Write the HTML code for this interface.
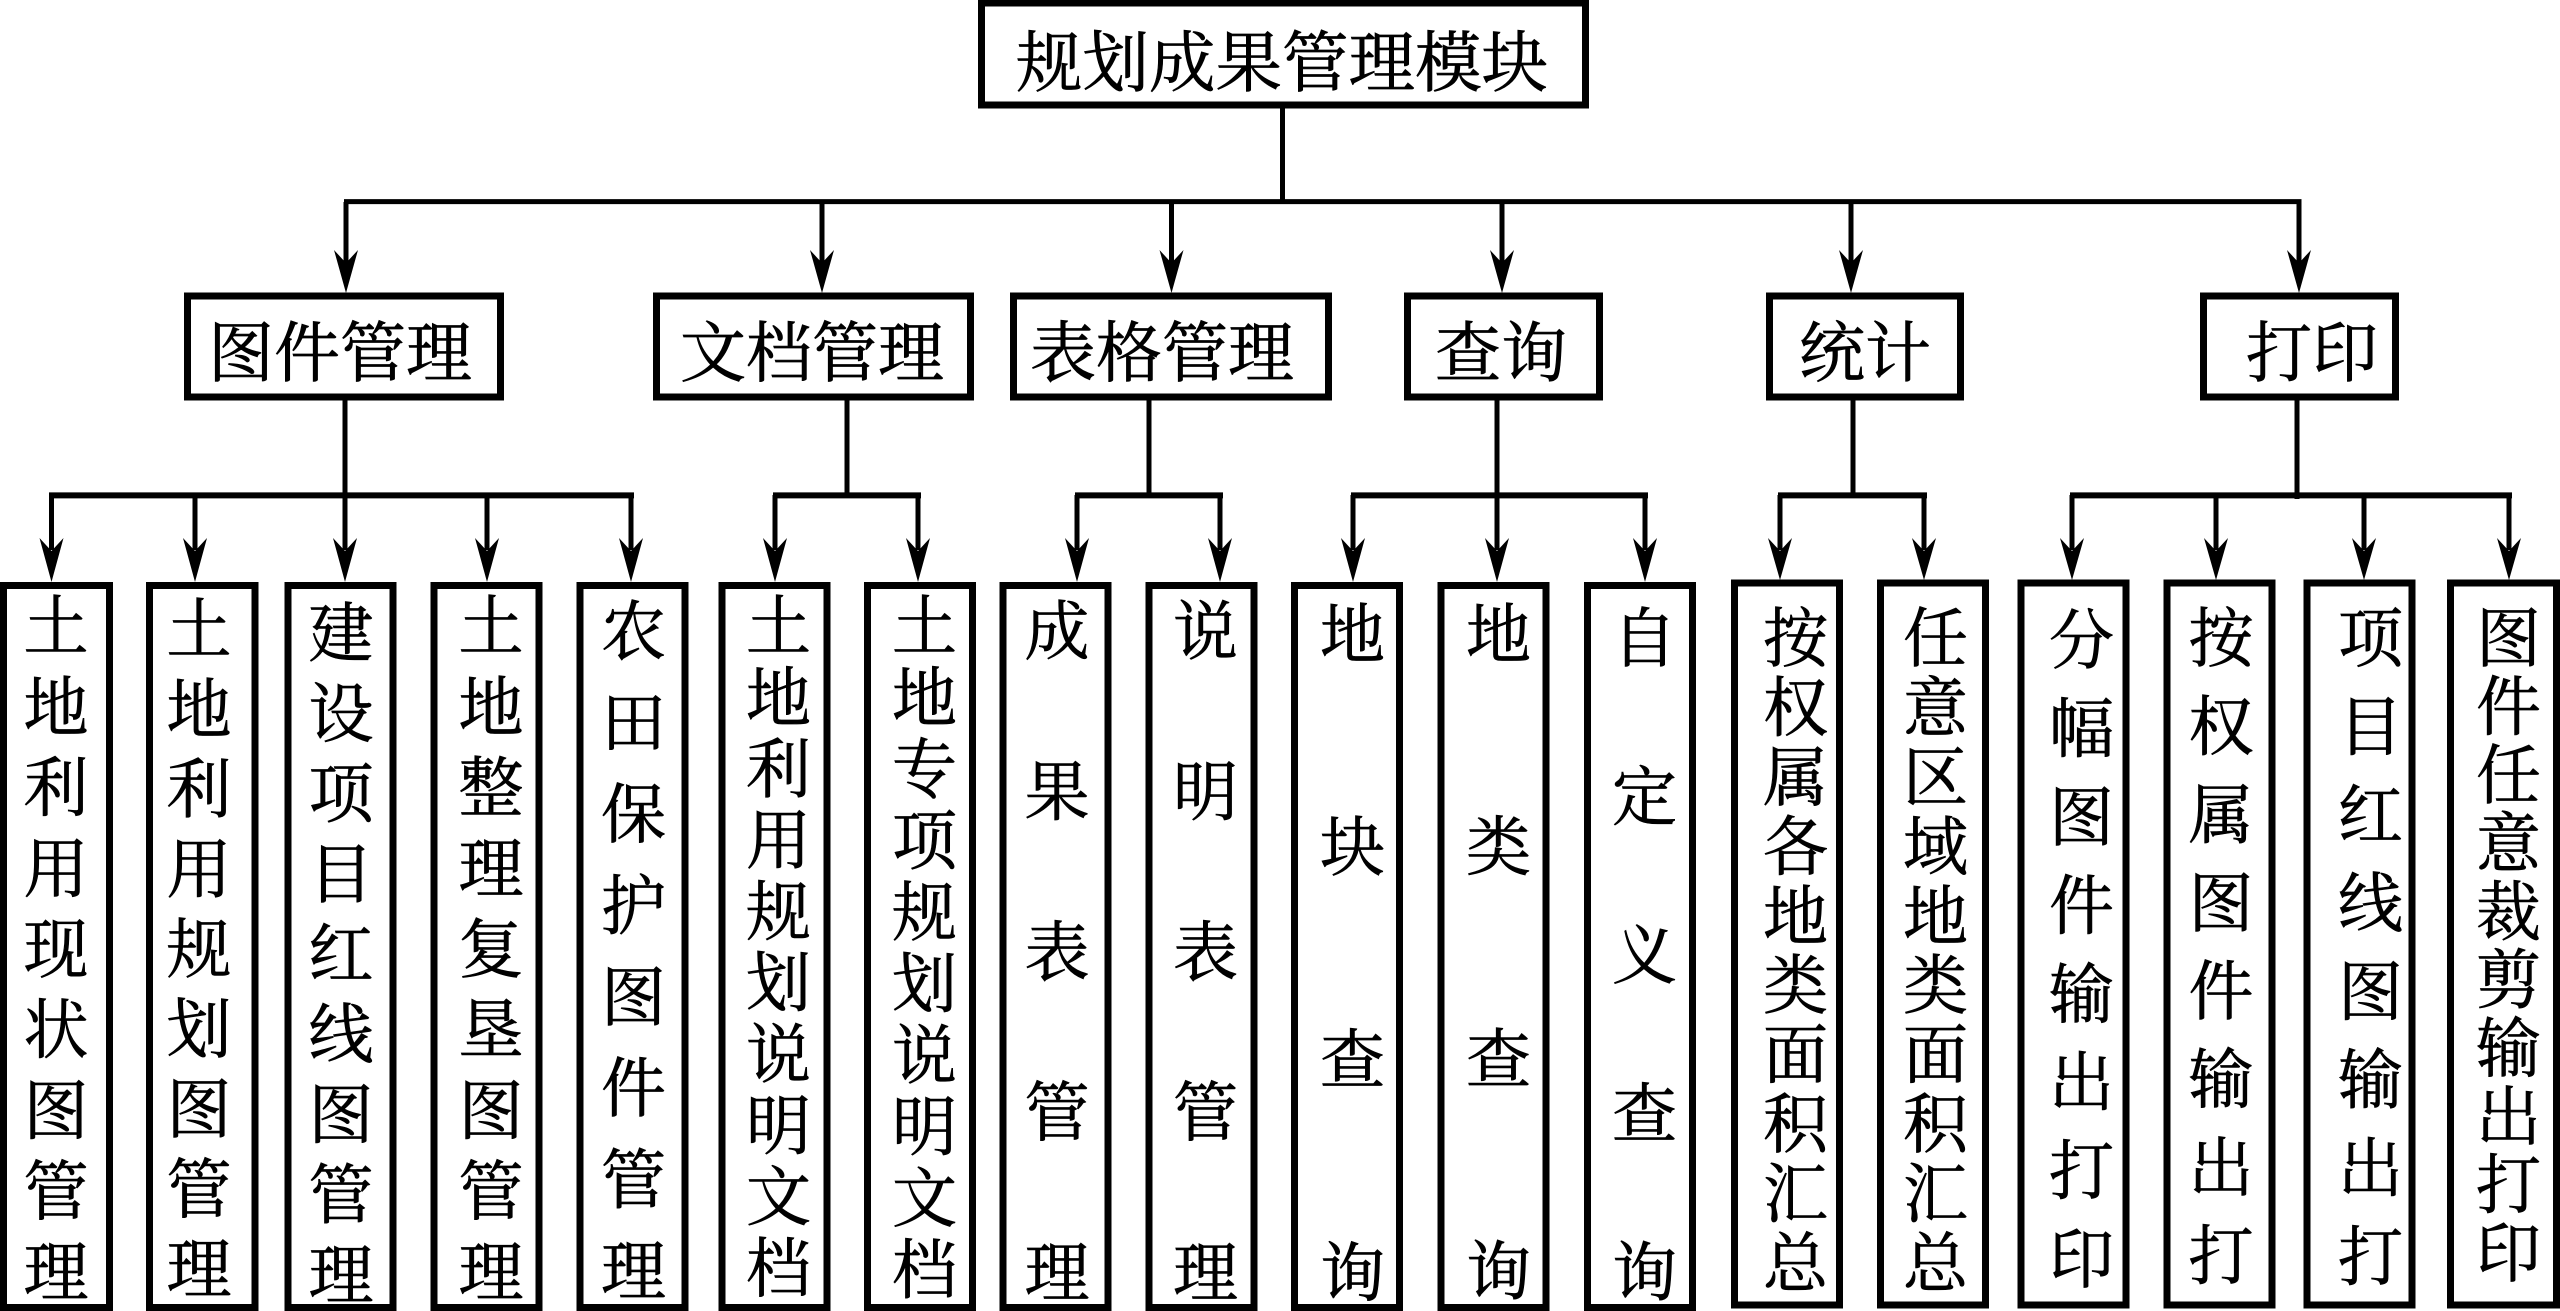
<!DOCTYPE html>
<html lang="zh"><head><meta charset="utf-8"><title>规划成果管理模块</title>
<style>
html,body{margin:0;padding:0;background:#fff;overflow:hidden;width:2560px;height:1311px}
#p{position:relative;width:2560px;height:1311px;overflow:hidden;background:#fff;font-family:"Noto Serif CJK SC",serif;color:#000}
svg{position:absolute;left:0;top:0}
.h{position:absolute;white-space:nowrap;line-height:66px;height:66px;text-align:center;transform:translateX(-50%);-webkit-text-stroke:.7px #000}
.v{position:absolute;bottom:0;overflow:hidden;writing-mode:vertical-rl;text-orientation:upright;font-size:65px;line-height:65px;width:65px;white-space:nowrap;-webkit-text-stroke:.7px #000}
</style></head><body><div id="p">
<svg width="2560" height="1311" viewBox="0 0 2560 1311">
<g fill="#fff" stroke="#000" stroke-width="7" stroke-linejoin="miter">
<rect x="981.5" y="3" width="604" height="102"/>
<rect x="187.5" y="296" width="313" height="101"/>
<rect x="656.5" y="296" width="314" height="101"/>
<rect x="1013.5" y="296" width="315" height="101"/>
<rect x="1407.5" y="296" width="192" height="101"/>
<rect x="1769.5" y="296" width="191" height="101"/>
<rect x="2203.5" y="296" width="192" height="101"/>
<rect x="3.5" y="585.5" width="106" height="722"/>
<rect x="149.5" y="585.5" width="105.5" height="722"/>
<rect x="288" y="585.5" width="105" height="722"/>
<rect x="434" y="585.5" width="105" height="722"/>
<rect x="580" y="585.5" width="105" height="722"/>
<rect x="722" y="585.5" width="105" height="722"/>
<rect x="867.5" y="585.5" width="105" height="722"/>
<rect x="1003" y="585.5" width="105" height="722"/>
<rect x="1149" y="585.5" width="105" height="722"/>
<rect x="1294.5" y="585.5" width="105" height="722"/>
<rect x="1441" y="585.5" width="105" height="722"/>
<rect x="1587.5" y="585.5" width="105" height="722"/>
<rect x="1734.5" y="583" width="105" height="722"/>
<rect x="1880.5" y="583" width="105" height="722"/>
<rect x="2021" y="583" width="105" height="722"/>
<rect x="2167" y="583" width="105" height="722"/>
<rect x="2307" y="583" width="105" height="722"/>
<rect x="2450.5" y="583" width="106" height="722"/>
</g>
<g fill="none" stroke="#000" stroke-width="5">
<path d="M1282.5 108V204M344 201.6H2301.5"/>
<path d="M346 202V265M822 202V265M1171.5 202V265M1502 202V265M1851 202V265M2299 202V265"/>
<path d="M345 400V500M847 400V495M1149 400V495M1497 400V500M1853 400V495M2297 400V499"/>
<path stroke-width="6" d="M49 495.4H634M773 495.4H921M1075 495.4H1223M1351 495.4H1648M1778 495.4H1927M2070 495.4H2512"/>
<path d="M51.5 495V550M195 495V550M345 495V550M487 495V550M631 495V550M775 495V550M918 495V550M1077 495V550M1220 495V550M1353 495V550M1497 495V550M1645 495V550M1780 495V550M1924 495V550M2072 495V550M2216 495V550M2364 495V550M2509 495V550"/>
</g>
<g fill="#000">
<path d="M346 293l-12-43 12 13 12-13zM822 293l-12-43 12 13 12-13zM1171.5 293l-12-43 12 13 12-13zM1502 293l-12-43 12 13 12-13zM1851 293l-12-43 12 13 12-13zM2299 293l-12-43 12 13 12-13z"/>
<path d="M51.5 582l-12-44 12 13 12-13zM195 582l-12-44 12 13 12-13zM345 582l-12-44 12 13 12-13zM487 582l-12-44 12 13 12-13zM631 582l-12-44 12 13 12-13zM775 582l-12-44 12 13 12-13zM918 582l-12-44 12 13 12-13zM1077 582l-12-44 12 13 12-13zM1220 582l-12-44 12 13 12-13zM1353 582l-12-44 12 13 12-13zM1497 582l-12-44 12 13 12-13zM1645 582l-12-44 12 13 12-13zM1780 580l-12-42 12 13 12-13zM1924 580l-12-42 12 13 12-13zM2072 580l-12-42 12 13 12-13zM2216 580l-12-42 12 13 12-13zM2364 580l-12-42 12 13 12-13zM2509 580l-12-42 12 13 12-13z"/>
</g>
</svg>

<div class="h" style="left:1282px;top:25px;font-size:66.5px">规划成果管理模块</div>
<div class="h" style="left:340px;top:315px;font-size:66px">图件管理</div>
<div class="h" style="left:812px;top:315px;font-size:66px">文档管理</div>
<div class="h" style="left:1162px;top:315px;font-size:66px">表格管理</div>
<div class="h" style="left:1501px;top:315px;font-size:66px">查询</div>
<div class="h" style="left:1865px;top:315px;font-size:66px">统计</div>
<div class="h" style="left:2312px;top:315px;font-size:66px">打印</div>

<div class="v" style="left:23px;top:592.2px;letter-spacing:15.7px">土地利用现状图管理</div>
<div class="v" style="left:166px;top:594.5px;letter-spacing:15px">土地利用规划图管理</div>
<div class="v" style="left:308px;top:598.5px;letter-spacing:15.2px">建设项目红线图管理</div>
<div class="v" style="left:458px;top:592.2px;letter-spacing:15.7px">土地整理复垦图管理</div>
<div class="v" style="left:600.5px;top:596.9px;letter-spacing:26.4px">农田保护图件管理</div>
<div class="v" style="left:745.5px;top:592.2px;letter-spacing:6.3px">土地利用规划说明文档</div>
<div class="v" style="left:891.5px;top:592.2px;letter-spacing:6.5px">土地专项规划说明文档</div>
<div class="v" style="left:1024px;top:596.5px;letter-spacing:95.3px">成果表管理</div>
<div class="v" style="left:1172.5px;top:596.5px;letter-spacing:95.3px">说明表管理</div>
<div class="v" style="left:1319.5px;top:599.5px;letter-spacing:147.7px">地块查询</div>
<div class="v" style="left:1465.5px;top:599.5px;letter-spacing:147.3px">地类查询</div>
<div class="v" style="left:1611.5px;top:604px;letter-spacing:93.4px">自定义查询</div>
<div class="v" style="left:1762.5px;top:604px;letter-spacing:4.4px">按权属各地类面积汇总</div>
<div class="v" style="left:1902.5px;top:604px;letter-spacing:4.4px">任意区域地类面积汇总</div>
<div class="v" style="left:2048.5px;top:605.5px;letter-spacing:23.4px">分幅图件输出打印</div>
<div class="v" style="left:2188px;top:604px;letter-spacing:23.2px">按权属图件输出打</div>
<div class="v" style="left:2337.5px;top:604px;letter-spacing:23.3px">项目红线图输出打</div>
<div class="v" style="left:2475.5px;top:604px;letter-spacing:3.3px">图件任意裁剪输出打印</div>
</div></body></html>
